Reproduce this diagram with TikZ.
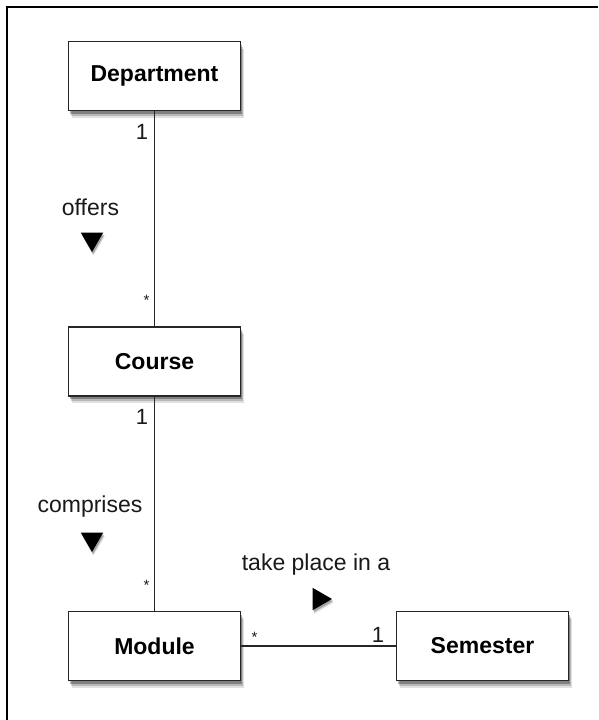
\documentclass[tikz,border=0pt]{standalone}
\usepackage{fontspec}
\setmainfont{Liberation Sans}
\usetikzlibrary{shapes.geometric,shadows}
\tikzset{
  softshadow/.style={
    drop shadow={shadow xshift=3pt, shadow yshift=-7pt, opacity=0.12, fill=black},
    drop shadow={shadow xshift=2pt, shadow yshift=-5pt, opacity=0.18, fill=black},
    drop shadow={shadow xshift=1pt, shadow yshift=-3pt, opacity=0.3, fill=black}},
  classbox/.style={draw=black!85, line width=1.6pt, fill=white,
    minimum width=172pt, minimum height=69pt, inner sep=0pt,
    font=\fontsize{23}{27}\selectfont\bfseries, softshadow},
  assoc/.style={line width=1.4pt, draw=black!85},
  lbl/.style={inner sep=0pt, font=\fontsize{23}{27}\selectfont, text=black!90},
  mult/.style={inner sep=0pt, font=\fontsize{22}{26}\selectfont, text=black!90},
  star/.style={inner sep=0pt, font=\fontsize{15}{18}\selectfont, text=black!90},
  tri/.style={regular polygon, regular polygon sides=3, fill=black, inner sep=0pt,
    minimum size=26pt,
    drop shadow={shadow xshift=1.5pt, shadow yshift=-3.5pt, opacity=0.15, fill=black},
    drop shadow={shadow xshift=1pt, shadow yshift=-2pt, opacity=0.25, fill=black}},
  frame/.style={line width=1.8pt, draw=black}
}
\begin{document}
\begin{tikzpicture}[x=1pt,y=-1pt]
\useasboundingbox (0,0) rectangle (598,720);
\coordinate (c0) at (7,720);
\coordinate (c1) at (7,7);
\coordinate (c2) at (598,7);
\draw[frame] (c0) -- (c1) -- (c2);

\node[classbox] (dept) at (154.5,76) {Department};
\node[classbox] (course) at (154.5,361.5) {Course};
\node[classbox] (module) at (154.5,646) {Module};
\node[classbox] (sem) at (482.5,646) {Semester};

\draw[assoc] (dept.south) -- (course.north);
\draw[assoc] (course.south) -- (module.north);
\draw[assoc] (module.east) -- (sem.west);

\node[mult] (m1) at (142,131.5) {1};
\node[star] (m2) at (146.5,300) {*};
\node[mult] (m3) at (142,417) {1};
\node[star] (m4) at (146.5,585) {*};
\node[star] (m5) at (254.5,637) {*};
\node[mult] (m6) at (378,634.5) {1};

\node[lbl] (l1) at (90.5,207.5) {offers};
\node[lbl] (l2) at (90,507) {comprises};
\node[lbl] (l3) at (316,565) {take place in a};

\node[tri, shape border rotate=180] (t1) at (92,239) {};
\node[tri, shape border rotate=180] (t2) at (92,539) {};
\node[tri, shape border rotate=-90] (t3) at (319,599) {};
\end{tikzpicture}
\end{document}
